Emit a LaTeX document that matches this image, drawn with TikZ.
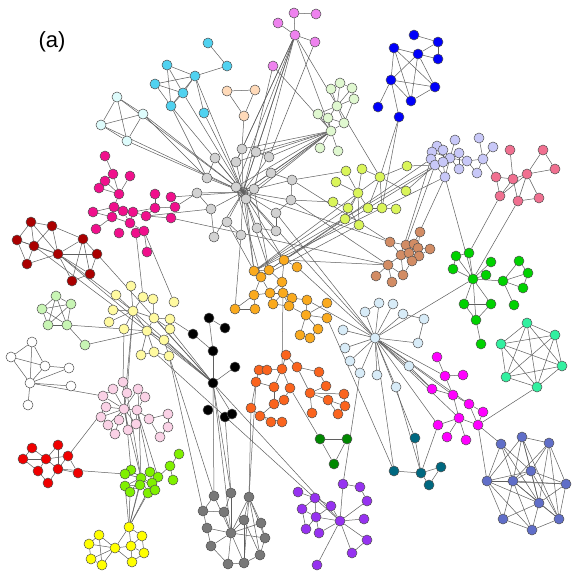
\documentclass[tikz,border=0pt]{standalone}
\usepackage{fontspec}
\setmainfont{Liberation Sans}
\pgfdeclarelayer{bglayer}
\pgfdeclarelayer{edgelayer}
\pgfsetlayers{bglayer,edgelayer,main}
\definecolor{cCy}{RGB}{80,210,240}
\definecolor{cLc}{RGB}{222,252,252}
\definecolor{cVi}{RGB}{238,130,238}
\definecolor{cPe}{RGB}{255,218,185}
\definecolor{cPg}{RGB}{224,248,208}
\definecolor{cBl}{RGB}{0,0,250}
\definecolor{cLa}{RGB}{200,200,248}
\definecolor{cPr}{RGB}{240,112,144}
\definecolor{cG}{RGB}{210,210,210}
\definecolor{cYg}{RGB}{218,245,90}
\definecolor{cBr}{RGB}{210,140,100}
\definecolor{cGr}{RGB}{0,210,0}
\definecolor{cAq}{RGB}{50,240,160}
\definecolor{cMg}{RGB}{255,0,255}
\definecolor{cSb}{RGB}{96,110,200}
\definecolor{cDt}{RGB}{0,104,128}
\definecolor{cPu}{RGB}{150,50,240}
\definecolor{cDg}{RGB}{0,136,0}
\definecolor{cDk}{RGB}{120,120,120}
\definecolor{cBk}{RGB}{0,0,0}
\definecolor{cOr}{RGB}{250,170,30}
\definecolor{cDo}{RGB}{250,100,30}
\definecolor{cLb}{RGB}{216,236,248}
\definecolor{cDp}{RGB}{240,16,140}
\definecolor{cDr}{RGB}{170,0,0}
\definecolor{cLg}{RGB}{200,245,180}
\definecolor{cWh}{RGB}{255,255,255}
\definecolor{cLy}{RGB}{255,250,160}
\definecolor{cLp}{RGB}{250,210,230}
\definecolor{cRd}{RGB}{240,0,0}
\definecolor{cLm}{RGB}{128,240,0}
\definecolor{cYw}{RGB}{255,255,0}
\definecolor{edgec}{RGB}{95,95,95}
\definecolor{nodeline}{RGB}{80,80,80}
\newcommand\placegroup[3]{\foreach \n/\x/\y in {#3} {\node[nd,fill=#2] (#1\n) at (\x,\y) {};}}
\newcommand\edgeset[1]{\foreach \a/\b in {#1} {\draw[ed] (\a) -- (\b);}}
\tikzset{
  nd/.style={circle,draw=nodeline,line width=0.5pt,inner sep=0pt,minimum size=10pt},
  ed/.style={draw=edgec,line width=0.5pt},
  lbl/.style={font=\fontsize{22}{26}\selectfont,inner sep=0pt}
}
\begin{document}
\begin{tikzpicture}[x=1pt,y=-1pt]
\useasboundingbox (0,0) rectangle (581,581);
\begin{pgfonlayer}{bglayer}
\fill[white] (0,0) rectangle (581,581);
\end{pgfonlayer}
\node[lbl] (label) at (52,42) {(a)};
% nodes
\placegroup{cy}{cCy}{1/167/65,2/155/84,3/183/93,4/171/106,5/195/76,6/208/43,7/227/66,8/204/113}
\placegroup{lc}{cLc}{1/117/97,2/143/114,3/101/125,4/127/141}
\placegroup{vi}{cVi}{1/294/13,2/316/14,3/278/23,4/295/35,5/315/42,6/273/66}
\placegroup{pe}{cPe}{1/227/91,2/255/90,3/244/116}
\placegroup{pg}{cPg}{1/331/89,2/340/83,3/352/88,4/354/99,5/337/106,6/318/114,7/328/118,8/344/123,9/331/131,10/320/148,11/338/151}
\placegroup{bl}{cBl}{1/414/35,2/438/42,3/394/48,4/418/54,5/438/59,6/391/80,7/435/87,8/411/101,9/399/117,10/378/107}
\placegroup{la}{cLa}{1/455/140,2/479/138,3/493/147,4/437/146,5/443/150,6/432/152,7/431/159,8/459/153,9/450/158,10/435/165,11/443/162,12/467/161,13/483/159,14/459/169,15/477/173,16/445/177}
\placegroup{pr}{cPr}{1/510/150,2/543/150,3/555/169,4/527/174,5/513/179,6/496/177,7/500/196,8/518/201,9/539/198}
\placegroup{g}{cG}{1/242/149,2/256/152,3/269/157,4/215/158,5/236/162,6/271/173,7/292/180,8/207/178,9/197/193,10/236/187,11/254/189,12/246/199,13/291/200,14/211/209,15/276/213,16/227/222,17/257/228,18/276/231,19/241/235,20/214/237}
\placegroup{yg}{cYg}{1/346/171,2/362/169,3/380/177,4/336/182,5/358/193,6/407/166,7/406/191,8/333/202,9/348/208,10/368/208,11/382/208,12/396/209,13/345/219,14/359/225}
\placegroup{br}{cBr}{1/420/232,2/390/242,3/406/245,4/414/244,5/418/248,6/430/249,7/401/255,8/409/253,9/419/256,10/412/261,11/388/265,12/403/275,13/392/282,14/376/276}
\placegroup{gr}{cGr}{1/456/256,2/469/253,3/453/269,4/491/262,5/486/275,6/473/279,7/503/281,8/519/261,9/528/273,10/523/288,11/514/305,12/464/304,13/491/304,14/476/320,15/481/344}
\placegroup{aq}{cAq}{1/527/323,2/555/335,3/501/344,4/562/366,5/506/377,6/537/387}
\placegroup{mg}{cMg}{1/437/357,2/445/376,3/463/375,4/432/389,5/453/395,6/469/404,7/483/412,8/459/418,9/438/425,10/478/425,11/447/437,12/466/440}
\placegroup{sb}{cSb}{1/501/444,2/522/437,3/549/443,4/531/471,5/487/481,6/513/481,7/566/484,8/539/503,9/503/519,10/559/519,11/532/530}
\placegroup{dt}{cDt}{1/415/438,2/394/471,3/421/473,4/441/467,5/429/485}
\placegroup{pu}{cPu}{1/343/484,2/360/487,3/298/492,4/315/498,5/367/501,6/331/506,7/302/509,8/316/517,9/340/521,10/364/519,11/306/529,12/319/533,13/367/540,14/352/553,15/317/565}
\placegroup{dg}{cDg}{1/320/439,2/347/439,3/334/464}
\placegroup{dk}{cDk}{1/214/496,2/231/493,3/249/497,4/203/511,5/224/512,6/244/520,7/261/523,8/207/528,9/231/533,10/265/538,11/211/546,12/260/555,13/244/563,14/228/564}
\placegroup{bk}{cBk}{1/209/318,2/225/328,3/193/334,4/213/351,5/235/367,6/213/383,7/208/410,8/225/417,9/232/414}
\placegroup{or}{cOr}{1/284/260,2/297/267,3/254/271,4/269/270,5/261/277,6/282/282,7/254/295,8/270/293,9/283/293,10/273/304,11/292/298,12/289/306,13/307/300,14/327/303,15/235/309,16/255/309,17/306/315,18/327/318,19/318/329,20/300/335,21/310/338}
\placegroup{do}{cDo}{1/286/355,2/259/370,3/267/370,4/282/369,5/297/367,6/319/372,7/256/382,8/274/387,9/290/388,10/326/386,11/310/393,12/344/394,13/251/408,14/274/404,15/284/400,16/260/416,17/328/400,18/345/406,19/271/422,20/282/422,21/312/413,22/338/414}
\placegroup{lb}{cLb}{1/379/303,2/393/304,3/365/312,4/403/314,5/424/319,6/343/330,7/375/338,8/345/348,9/418/343,10/350/361,11/360/373,12/377/375,13/409/366,14/396/387}
\placegroup{dp}{cDp}{1/105/156,2/113/174,3/130/176,4/105/181,5/99/188,6/119/194,7/155/194,8/171/197,9/93/212,10/114/207,11/123/211,12/133/212,13/155/208,14/175/207,15/112/217,16/146/216,17/171/218,18/130/223,19/96/229,20/119/233,21/136/233,22/144/231,23/147/252}
\placegroup{dr}{cDr}{1/31/222,2/52/226,3/17/240,4/34/246,5/58/254,6/83/239,7/97/254,8/27/264,9/90/274,10/72/281}
\placegroup{lg}{cLg}{1/56/296,2/71/304,3/42/309,4/48/325,5/67/325,6/85/345}
\placegroup{wh}{cWh}{1/32/342,2/11/357,3/45/366,4/69/368,5/30/383,6/71/386,7/28/405}
\placegroup{ly}{cLy}{1/131/286,2/116/295,3/143/297,4/153/299,5/174/302,6/113/310,7/133/311,8/109/322,9/154/318,10/170/319,11/124/329,12/147/331,13/170/329,14/164/340,15/141/355,16/154/352,17/169/356}
\placegroup{lp}{cLp}{1/123/382,2/113/389,3/138/389,4/103/396,5/127/393,6/145/397,7/106/407,8/124/409,9/137/410,10/101/417,11/119/420,12/149/419,13/168/414,14/108/425,15/136/424,16/128/430,17/115/434,18/168/427,19/160/437}
\placegroup{rd}{cRd}{1/32/448,2/58/445,3/23/459,4/46/459,5/68/456,6/38/471,7/58/469,8/78/473,9/48/483}
\placegroup{lm}{cLm}{1/179/454,2/170/466,3/131/470,4/125/474,5/150/472,6/141/478,7/158/477,8/173/480,9/152/483,10/140/485,11/125/486,12/130/492,13/148/493,14/155/490}
\placegroup{yw}{cYw}{1/129/527,2/99/535,3/142/536,4/89/544,5/115/548,6/131/546,7/144/553,8/91/559,9/132/562,10/102/565}
% edges
\begin{pgfonlayer}{edgelayer}
\node[nd,fill=cG] (g0) at (243,192) {};
\edgeset{cy1/cy5,cy1/cy3,cy1/cy4,cy2/cy5,cy2/cy3,cy2/cy4,cy3/cy4,cy3/cy5,cy4/cy5,cy6/cy7,cy7/cy5,cy5/cy8,cy5/g0.center,cy4/g0.center,cy3/g0.center,cy8/g0.center,cy4/g8}
\edgeset{lc1/lc2,lc1/lc3,lc1/lc4,lc2/lc3,lc2/lc4,lc3/lc4,lc1/g0.center,lc2/g0.center,lc2/g8,lc3/g0.center,lc4/g0.center}
\edgeset{vi1/vi2,vi1/vi4,vi3/vi4,vi4/vi5,vi4/g0.center,vi4/g1,vi4/g2,vi4/g5,vi4/g10,vi4/g11,vi4/pg9,vi4/yg3,vi5/g3,vi6/g0.center,vi6/pg9}
\edgeset{pe1/pe2,pe1/pe3,pe2/pe3,pe3/g1}
\edgeset{pg1/pg2,pg2/pg3,pg3/pg4,pg1/pg5,pg2/pg5,pg3/pg5,pg4/pg5,pg5/pg6,pg5/pg7,pg5/pg8,pg6/pg7,pg7/pg8,pg4/pg8,pg6/pg9,pg7/pg9,pg8/pg9,pg9/pg10,pg9/pg11,pg9/g0.center,pg9/g1,pg9/g2,pg9/g3,pg9/g5,pg9/g6,pg9/g10,pg9/g11,pg9/g12}
\edgeset{bl1/bl2,bl2/bl4,bl2/bl5,bl3/bl4,bl4/bl5,bl3/bl6,bl3/bl8,bl3/bl7,bl4/bl6,bl4/bl8,bl4/bl7,bl6/bl7,bl6/bl8,bl7/bl8,bl6/bl10,bl6/bl9,bl9/yg3,bl9/yg11}
\edgeset{la1/la9,la2/la13,la3/la13,la13/la12,la13/la15,la12/la8,la12/la9,la12/la14,la4/la5,la4/la6,la5/la9,la5/la11,la6/la7,la6/la9,la7/la10,la10/la11,la11/la9,la8/la9,la9/la16,la9/la14,la11/la16,la10/la16,la8/la14,la15/la12,yg6/la10,yg7/la10,la10/or3,la16/or3,la7/or4,la11/or1,la16/br4,la10/br3,la7/br7,la16/gr6}
\edgeset{pr1/pr5,pr2/pr4,pr2/pr3,pr3/pr4,pr4/pr5,pr6/pr5,pr6/pr7,pr5/pr7,pr5/pr8,pr4/pr8,pr4/pr9,pr8/pr9,pr4/pr7,pr7/gr2,pr8/gr6,pr6/la13}
\edgeset{g1/g0.center,g2/g0.center,g3/g0.center,g4/g0.center,g5/g0.center,g6/g0.center,g7/g0.center,g8/g0.center,g9/g0.center,g10/g0.center,g11/g0.center,g12/g0.center,g13/g0.center,g14/g0.center,g15/g0.center,g16/g0.center,g17/g0.center,g18/g0.center,g19/g0.center,g20/g0.center,g9/g14,g14/g20,g8/g4,g1/g5,g2/g3,g6/g7,g13/g15,g15/g18,g16/g19,g17/g18,g7/yg1,g13/yg8,g7/g13}
\edgeset{yg1/yg5,yg2/yg5,yg3/yg5,yg3/yg6,yg3/yg7,yg3/yg11,yg3/yg10,yg5/yg9,yg5/yg10,yg5/yg13,yg5/yg14,yg9/yg13,yg9/yg14,yg8/yg9,yg10/yg11,yg11/yg12,yg4/yg5,yg2/yg3,yg5/or3,yg9/or3,yg13/or4,yg14/or5}
\edgeset{br1/br5,br2/br7,br3/br4,br3/br8,br4/br5,br4/br8,br5/br9,br6/br9,br7/br8,br7/br10,br8/br9,br9/br10,br7/br11,br11/br12,br11/br13,br11/br14,br7/br12,br10/br12,br5/br6,br2/br3,g0.center/br2,g13/br11,g7/br2,dp17/br11,br11/or1}
\edgeset{gr1/gr2,gr1/gr3,gr1/gr6,gr2/gr6,gr3/gr6,gr4/gr6,gr5/gr6,gr6/gr7,gr7/gr8,gr7/gr9,gr7/gr10,gr7/gr11,gr8/gr9,gr9/gr10,gr6/gr12,gr6/gr13,gr6/gr14,gr12/gr13,gr12/gr14,gr13/gr14,gr14/gr15,gr6/lb7}
\edgeset{aq1/aq2,aq1/aq3,aq1/aq4,aq1/aq5,aq1/aq6,aq2/aq3,aq2/aq4,aq2/aq5,aq2/aq6,aq3/aq4,aq3/aq5,aq3/aq6,aq4/aq5,aq4/aq6,aq5/aq6,aq6/mg10}
\edgeset{mg1/mg2,mg2/mg3,mg2/mg5,mg4/mg5,mg5/mg6,mg5/mg8,mg6/mg7,mg6/mg10,mg8/mg9,mg8/mg10,mg8/mg11,mg8/mg12,mg7/mg10,lb7/mg2,lb7/mg4,lb7/mg5,lb7/mg8,lb7/mg9,lb7/mg6,lb13/mg4}
\edgeset{sb1/sb4,sb1/sb5,sb1/sb6,sb1/sb8,sb2/sb3,sb2/sb4,sb2/sb5,sb2/sb6,sb2/sb8,sb2/sb10,sb3/sb4,sb3/sb6,sb3/sb7,sb3/sb8,sb3/sb10,sb4/sb5,sb4/sb6,sb4/sb7,sb4/sb8,sb4/sb10,sb5/sb6,sb5/sb7,sb5/sb8,sb5/sb9,sb5/sb11,sb6/sb7,sb6/sb8,sb6/sb9,sb6/sb10,sb6/sb11,sb7/sb8,sb7/sb10,sb8/sb9,sb8/sb10,sb8/sb11,sb9/sb11,sb10/sb11,mg10/sb1,mg10/sb5}
\edgeset{dt2/dt3,dt3/dt4,dt3/dt5,dt4/dt5,dt1/dt3,dt3/mg9,dt1/lb7,dt3/lb14,dt2/lb7,or18/dt2}
\edgeset{pu1/pu2,pu1/pu9,pu5/pu9,pu3/pu4,pu4/pu6,pu4/pu7,pu4/pu8,pu6/pu9,pu6/pu8,pu7/pu8,pu7/pu11,pu8/pu11,pu8/pu12,pu8/pu9,pu9/pu10,pu9/pu12,pu9/pu13,pu9/pu14,pu13/pu14,pu9/pu15,pu2/pu5,lb11/pu1,bk6/pu9,ly16/pu9}
\edgeset{dg1/dg2,dg1/dg3,dg2/dg3,do9/dg1}
\edgeset{dk2/dk9,dk2/dk5,dk1/dk4,dk1/dk9,dk3/dk9,dk3/dk6,dk3/dk7,dk3/dk10,dk4/dk5,dk4/dk8,dk5/dk9,dk6/dk9,dk6/dk13,dk7/dk9,dk7/dk10,dk8/dk9,dk9/dk10,dk9/dk11,dk9/dk13,dk9/dk14,dk10/dk12,dk11/dk14,dk12/dk13,dk13/dk14,dk3/dk13,dk3/dk12,dk8/dk11,dk6/dk12,bk6/dk1,bk6/dk2,bk8/dk2,do13/dk3,do7/dk3,bk6/dk9,ly14/dk1,ly17/dk4}
\edgeset{bk1/bk2,bk1/bk4,bk3/bk4,bk4/bk6,bk5/bk6,bk8/bk9,bk6/bk9,ly7/bk6,ly12/bk6,ly9/bk6,ly13/bk6,ly10/bk3,dr5/bk6,ly14/bk6}
\edgeset{or1/or6,or3/or5,or3/or4,or4/or5,or4/or6,or5/or7,or5/or8,or6/or8,or6/or9,or7/or8,or7/or16,or8/or9,or8/or10,or9/or10,or9/or11,or9/or12,or10/or12,or11/or12,or11/or13,or13/or17,or14/or17,or17/or18,or17/or19,or17/or20,or19/or21,or20/or21,or15/or16,or15/or7,or1/or2,or12/or17,g0.center/or3,g0.center/or4,g0.center/or1,g12/or3,g10/or5,g11/or4,g19/or15,g17/or1,g16/or3,or2/lb7,or13/lb7,or9/do4,g0.center/lb7,g15/lb7}
\edgeset{do1/do4,do1/do5,do2/do3,do2/do7,do3/do4,do4/do8,do5/do11,do6/do10,do7/do8,do7/do13,do8/do14,do9/do15,do11/do12,do11/do17,do11/do21,do12/do18,do13/do16,do14/do16,do14/do15,do16/do19,do16/do20,do17/do18,do18/do22,do10/do11,do17/do22,do6/do5,do4/do9}
\edgeset{lb1/lb3,lb2/lb7,lb3/lb7,lb4/lb7,lb4/lb5,lb5/lb9,lb6/lb7,lb7/lb8,lb7/lb9,lb7/lb10,lb7/lb11,lb7/lb12,lb7/lb13,lb7/lb14,lb10/lb11,lb1/lb7}
\edgeset{dp1/dp2,dp2/dp4,dp2/dp6,dp3/dp6,dp4/dp6,dp5/dp6,dp6/dp10,dp9/dp10,dp10/dp11,dp10/dp15,dp11/dp12,dp11/dp18,dp12/dp13,dp12/dp16,dp13/dp7,dp13/dp14,dp16/dp17,dp15/dp18,dp15/dp19,dp18/dp21,dp18/dp22,dp22/dp23,dp12/dp18,dp9/dp15,dp13/dp16,dp8/dp14,dp14/g9,dp8/g0.center,dp16/g14,dp21/ly3,dp22/ly5}
\edgeset{dr1/dr2,dr1/dr3,dr1/dr4,dr1/dr5,dr2/dr4,dr2/dr5,dr3/dr4,dr3/dr8,dr4/dr5,dr4/dr8,dr5/dr8,dr2/dr6,dr5/dr6,dr5/dr7,dr5/dr9,dr5/dr10,dr6/dr7,dr6/dr9,dr6/dr10,dr7/dr9,dr9/dr10,dr3/dr5,dr5/ly7,dr4/ly12,dr7/bk6}
\edgeset{lg1/lg2,lg1/lg3,lg1/lg4,lg1/lg5,lg2/lg3,lg2/lg4,lg2/lg5,lg3/lg4,lg3/lg5,lg4/lg5,lg5/lg6,lg5/ly11,lg6/ly12}
\edgeset{wh1/wh2,wh1/wh3,wh1/wh5,wh2/wh5,wh3/wh4,wh3/wh5,wh4/wh5,wh2/wh3,wh5/wh6,wh5/wh7,wh5/lp4}
\edgeset{ly1/ly7,ly2/ly7,ly3/ly7,ly3/ly4,ly6/ly7,ly8/ly7,ly7/ly11,ly7/ly12,ly7/ly9,ly9/ly10,ly9/ly12,ly9/ly13,ly12/ly14,ly12/ly15,ly12/ly16,ly15/ly16,ly16/ly17,ly13/ly14,ly10/ly13,ly4/ly9,ly11/ly12,ly7/lp8,ly11/lp1,ly7/lp5}
\edgeset{lp1/lp5,lp2/lp8,lp3/lp8,lp4/lp8,lp5/lp8,lp6/lp9,lp7/lp8,lp8/lp9,lp8/lp10,lp8/lp11,lp8/lp14,lp8/lp15,lp8/lp16,lp9/lp12,lp12/lp13,lp13/lp18,lp18/lp19,lp12/lp19,lp11/lp17,lp14/lp17,lp15/lp16,lp2/lp4,lp9/lp15,lp8/lm6,lp5/lm6,lp3/lm6,lp9/lm5,lp1/lm3,lp9/lm7,rd5/lp7}
\edgeset{rd1/rd3,rd1/rd4,rd2/rd4,rd2/rd7,rd3/rd4,rd4/rd6,rd4/rd7,rd4/rd5,rd5/rd7,rd6/rd9,rd7/rd9,rd7/rd8,rd5/rd8,rd3/rd6,rd7/lm4}
\edgeset{lm1/lm2,lm2/lm7,lm7/lm5,lm5/lm6,lm6/lm3,lm3/lm4,lm4/lm6,lm6/lm10,lm6/lm9,lm9/lm14,lm9/lm13,lm10/lm11,lm10/lm12,lm6/lm11,lm6/lm12,lm6/lm13,lm6/lm14,lm5/lm9,lm7/lm14,lm2/lm8,lm6/yw1,lm10/yw1,lm12/yw1,lm13/yw1,lm9/yw1,lm11/yw1}
\edgeset{yw1/yw6,yw1/yw3,yw1/yw5,yw2/yw4,yw2/yw5,yw4/yw5,yw4/yw8,yw5/yw8,yw5/yw10,yw8/yw10,yw2/yw10,yw5/yw6,yw5/yw9,yw6/yw3,yw6/yw7,yw6/yw9,yw7/yw9,yw3/yw7}
\end{pgfonlayer}
\end{tikzpicture}
\end{document}
